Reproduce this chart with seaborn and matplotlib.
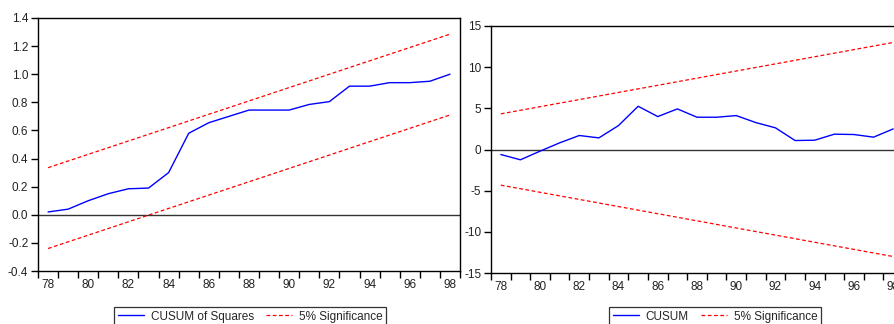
import numpy as np
import pandas as pd
import matplotlib
matplotlib.use("Agg")
import matplotlib.pyplot as plt
import matplotlib.lines as mlines
import seaborn as sns

# Data
years = [1978, 1979, 1980, 1981, 1982, 1983, 1984, 1985, 1986, 1987, 1988,
         1989, 1990, 1991, 1992, 1993, 1994, 1995, 1996, 1997, 1998]
cusum_sq = [0.02, 0.04, 0.10, 0.15, 0.185, 0.19, 0.30, 0.58, 0.655, 0.70, 0.745,
            0.745, 0.745, 0.785, 0.805, 0.915, 0.915, 0.94, 0.94, 0.95, 1.00]
cusum = [-0.61, -1.25, -0.20, 0.81, 1.70, 1.41, 2.91, 5.25, 4.00, 4.93, 3.92,
         3.92, 4.12, 3.27, 2.63, 1.09, 1.13, 1.86, 1.82, 1.50, 2.50]

# significance bands are straight lines: end points only
band_years = [1978, 1998]
sq_upper = [0.335, 1.285]
sq_lower = [-0.24, 0.71]
cs_upper = [4.33, 13.0]
cs_lower = [-4.33, -13.0]

sq_yticks = [-0.4, -0.2, 0.0, 0.2, 0.4, 0.6, 0.8, 1.0, 1.2, 1.4]
cs_yticks = [-15, -10, -5, 0, 5, 10, 15]
xlabel_years = [1978, 1980, 1982, 1984, 1986, 1988, 1990, 1992, 1994, 1996, 1998]

sns.set_theme(style="ticks")
plt.rcParams["font.family"] = ["Liberation Sans", "DejaVu Sans"]
fs = 8.5

fig = plt.figure(figsize=(8.95, 3.24), dpi=100)
ax1 = fig.add_axes([38 / 895, 53 / 324, 422 / 895, 253 / 324])
ax2 = fig.add_axes([491 / 895, 51 / 324, 412 / 895, 247 / 324])


def draw_panel(ax, series, upper, lower, yticks, ylim, fmt, label):
    sns.lineplot(x=years, y=series, ax=ax, color="#0000ff", lw=1.0)
    sns.lineplot(x=band_years, y=upper, ax=ax, color="#ff0000", lw=0.9,
                 linestyle=(0, (3, 2)))
    sns.lineplot(x=band_years, y=lower, ax=ax, color="#ff0000", lw=0.9,
                 linestyle=(0, (3, 2)))
    ax.axhline(0, color="#333333", lw=1.0, zorder=1)

    ax.set_xlim(years[0] - 0.5, years[-1] + 0.5)
    ax.set_ylim(*ylim)
    ax.set_yticks(yticks)
    ax.set_yticklabels([fmt(v) for v in yticks])
    ax.set_xticks(xlabel_years)
    ax.set_xticklabels([f"{y % 100:02d}" for y in xlabel_years])
    ax.set_xticks([y - 0.5 for y in years] + [years[-1] + 0.5], minor=True)
    ax.tick_params(axis="x", which="major", length=0, pad=6, labelsize=fs, colors="#222222")
    ax.tick_params(axis="x", which="minor", length=5, width=1, direction="out", color="black")
    ax.tick_params(axis="y", length=5, width=1, direction="out", pad=2, labelsize=fs,
                   colors="#222222")
    ax.tick_params(axis="y", which="major", color="black")
    for s in ax.spines.values():
        s.set_visible(True)
        s.set_color("black")
        s.set_linewidth(1.0)
    ax.set_xlabel("")
    ax.set_ylabel("")

    handles = [
        mlines.Line2D([], [], color="#0000ff", lw=1.0, label=label),
        mlines.Line2D([], [], color="#ff0000", lw=0.9, linestyle=(0, (3, 2)),
                      label="5% Significance"),
    ]
    return handles


h1 = draw_panel(ax1, cusum_sq, sq_upper, sq_lower, sq_yticks, (-0.4, 1.4),
                lambda v: f"{v:.1f}", "CUSUM of Squares")
h2 = draw_panel(ax2, cusum, cs_upper, cs_lower, cs_yticks, (-15, 15),
                lambda v: f"{v:d}", "CUSUM")

for handles, cx in [(h1, 250 / 895), (h2, 715 / 895)]:
    leg = fig.legend(handles=handles, loc="upper center", bbox_to_anchor=(cx, 17 / 324),
                     ncol=2, frameon=True, fancybox=False, edgecolor="black",
                     fontsize=fs, handlelength=2.2, columnspacing=1.0,
                     handletextpad=0.6, borderpad=0.3, borderaxespad=0)
    leg.get_frame().set_linewidth(0.9)

fig.savefig("out.png", dpi=100)
